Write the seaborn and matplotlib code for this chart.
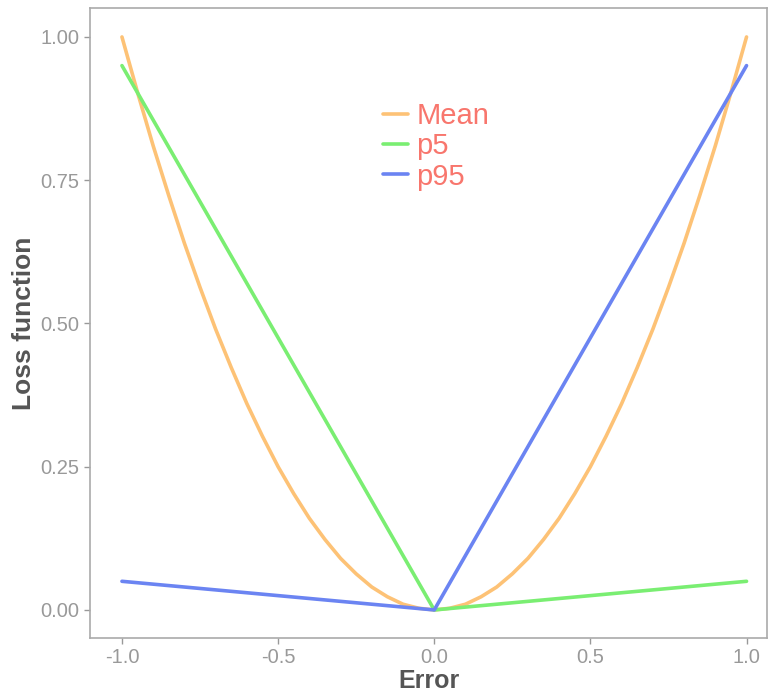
import pandas as pd
import matplotlib
matplotlib.use("Agg")
import matplotlib.pyplot as plt
import seaborn as sns

# values
err = [-1.00, -0.95, -0.90, -0.85, -0.80, -0.75, -0.70, -0.65, -0.60, -0.55,
       -0.50, -0.45, -0.40, -0.35, -0.30, -0.25, -0.20, -0.15, -0.10, -0.05,
       0.00, 0.05, 0.10, 0.15, 0.20, 0.25, 0.30, 0.35, 0.40, 0.45,
       0.50, 0.55, 0.60, 0.65, 0.70, 0.75, 0.80, 0.85, 0.90, 0.95, 1.00]
mean_loss = [1.000, 0.903, 0.810, 0.723, 0.640, 0.563, 0.490, 0.423, 0.360, 0.303,
             0.250, 0.203, 0.160, 0.123, 0.090, 0.063, 0.040, 0.023, 0.010, 0.003,
             0.000, 0.003, 0.010, 0.023, 0.040, 0.063, 0.090, 0.123, 0.160, 0.203,
             0.250, 0.303, 0.360, 0.423, 0.490, 0.563, 0.640, 0.723, 0.810, 0.903, 1.000]
p5_err = [-1.0, 0.0, 1.0]
p5_loss = [0.95, 0.00, 0.05]
p95_err = [-1.0, 0.0, 1.0]
p95_loss = [0.05, 0.00, 0.95]

df = pd.concat([
    pd.DataFrame({"Error": err, "Loss": mean_loss, "series": "Mean"}),
    pd.DataFrame({"Error": p5_err, "Loss": p5_loss, "series": "p5"}),
    pd.DataFrame({"Error": p95_err, "Loss": p95_loss, "series": "p95"}),
])

sns.set_style("ticks")
plt.rcParams["font.family"] = ["Liberation Sans", "DejaVu Sans"]

colors = {"Mean": "#FDC276", "p5": "#7AEE72", "p95": "#6B84F2"}

fig = plt.figure(figsize=(7.69, 6.92), dpi=100)
ax = fig.add_axes([0.117, 0.078, 0.881, 0.910])
sns.lineplot(data=df, x="Error", y="Loss", hue="series", palette=colors,
             linewidth=2.6, ax=ax, sort=False)

ax.set_xlim(-1.1024, 1.067)
ax.set_ylim(-0.049, 1.05)
ax.set_xticks([-1.0, -0.5, 0.0, 0.5, 1.0])
ax.set_xticklabels(["-1.0", "-0.5", "0.0", "0.5", "1.0"])
ax.set_yticks([0.0, 0.25, 0.5, 0.75, 1.0])
ax.set_yticklabels(["0.00", "0.25", "0.50", "0.75", "1.00"])
ax.tick_params(colors="#999999", labelsize=14.5, length=4, width=1)
for s in ax.spines.values():
    s.set_color("#AAAAAA")
    s.set_linewidth(1.2)
ax.set_xlabel("Error", fontsize=18, fontweight="bold", color="#555555", labelpad=1)
ax.set_ylabel("Loss function", fontsize=19, fontweight="bold", color="#555555", labelpad=3)

leg = ax.legend(loc="center left", bbox_to_anchor=(0.432, 0.781), frameon=False,
                fontsize=21, handlelength=0.86, handletextpad=0.3, labelspacing=0.08,
                borderpad=0, borderaxespad=0)
for t in leg.get_texts():
    t.set_color("#F8766D")

fig.savefig("out.png", dpi=100)
